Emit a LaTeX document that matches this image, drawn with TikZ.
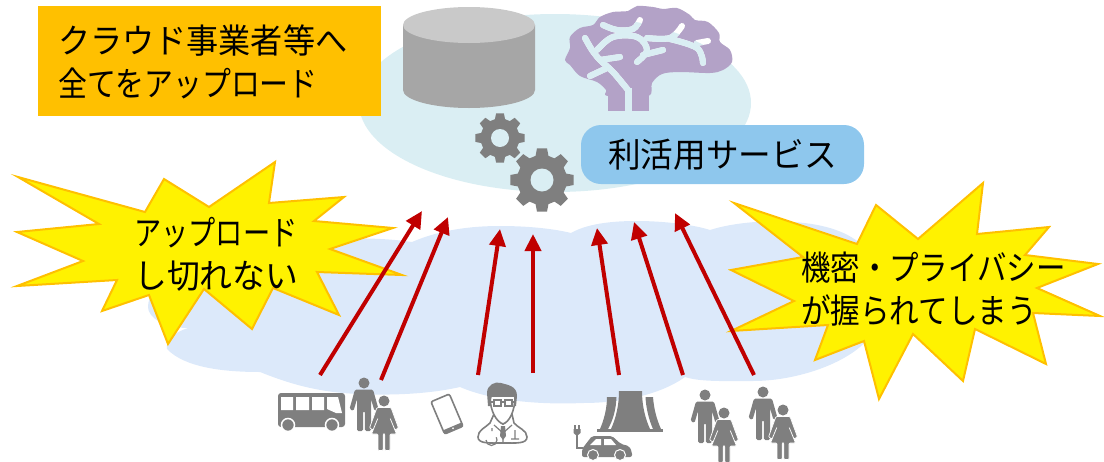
\documentclass[tikz,border=0pt]{standalone}
\usepackage{fontspec}
\usepackage{graphicx}
\setmainfont{Noto Sans CJK JP}
\usetikzlibrary{arrows.meta}
\definecolor{skyc}{HTML}{DAEEF3}
\definecolor{cloudc}{HTML}{DCE9FA}
\definecolor{orangec}{HTML}{FFC000}
\definecolor{bluec}{HTML}{8EC7ED}
\definecolor{redc}{HTML}{C00000}
\definecolor{iconc}{HTML}{7F7F7F}
\definecolor{brainc}{HTML}{B3A2C7}
\tikzset{
  starshape/.style={fill=yellow,draw=orangec,line width=2pt,miter limit=20},
  upflow/.style={draw=redc,line width=4pt,-{Triangle[length=17pt,width=16pt]}},
  jp/.style={font=\fontsize{34pt}{43pt}\selectfont,text=black,inner sep=0pt,align=left},
  veinline/.style={line width=6pt,line cap=round,line join=round},
  man/.pic={\fill[iconc] (0,0) circle (5.5);
    \fill[iconc,rounded corners=1.5pt] (-9,6.5)--(-14.5,26)--(-10.5,28)--(-7,16)--(-7,48)--(-.8,48)--(-.8,28)--(.8,28)--(.8,48)--(7,48)--(7,16)--(10.5,28)--(14.5,26)--(9,6.5)--cycle;},
  woman/.pic={\fill[iconc] (0,0) circle (5.5);
    \filldraw[iconc,draw=white,line width=.7pt,rounded corners=1pt] (-7,6.5)--(-14.5,27)--(-11,29)--(-6,17)--(-12.5,33)--(-6,33)--(-6,49.5)--(-.8,49.5)--(-.8,33)--(.8,33)--(.8,49.5)--(6,49.5)--(6,33)--(12.5,33)--(6,17)--(11,29)--(14.5,27)--(7,6.5)--cycle;}
}
\newcommand{\gearicon}[4]{% x y R hole
  \begin{scope}[shift={(#1,#2)}]
    \fill[iconc,line join=round] (90-9:#3) \foreach \a in {90,135,...,405} { -- (\a-9:#3) -- (\a+9:#3) -- (\a+15:{.78*#3}) -- (\a+30:{.78*#3}) } -- cycle;
    \fill[skyc] (0,0) circle (#4);
  \end{scope}}
\newcommand{\veinpaths}[1]{%
  \draw[#1,line width=7pt,line cap=butt] (628,111)--(628,88);
  \draw[#1] plot[smooth,tension=.6] coordinates {(628,90)(613,72)(600,60)(592,50)(585,38)};
  \draw[#1] plot[smooth,tension=.6] coordinates {(603,25)(617,30)(633,29)(640,20)};
  \draw[#1] plot[smooth,tension=.6] coordinates {(597,50)(613,37)(637,37)(647,50)(637,62)};
  \draw[#1] (643,55)--(663,50);
  \draw[#1] plot[smooth,tension=.6] coordinates {(647,38)(670,38)(682,26)};
  \draw[#1] plot[smooth,tension=.6] coordinates {(670,39)(697,48)(703,63)};
  \draw[#1] (697,43)--(708,41);
  \draw[#1] (600,60)--(620,57);
  \draw[#1] (590,76)--(607,68);
}
\begin{document}
\begin{tikzpicture}[x=1pt,y=-1pt]
\useasboundingbox (0,0) rectangle (1104,461);
% upper sky cloud
\fill[skyc] (555,103) ellipse [x radius=196,y radius=89];
% lower cloud
\fill[cloudc] (412,242) .. controls (440,230) and (470,226) .. (500,226)
  .. controls (530,226) and (555,229) .. (571,233)
  .. controls (590,222) and (620,221) .. (637,221)
  .. controls (665,221) and (695,225) .. (710,230)
  .. controls (735,222) and (770,220) .. (793,222)
  .. controls (825,224) and (850,232) .. (865,248)
  .. controls (885,270) and (890,320) .. (860,347)
  .. controls (835,368) and (790,381) .. (753,381)
  .. controls (725,381) and (700,382) .. (685,377)
  .. controls (660,395) and (620,403) .. (583,403)
  .. controls (535,405) and (490,400) .. (460,387)
  .. controls (425,395) and (380,396) .. (343,393)
  .. controls (310,390) and (285,382) .. (260,372)
  .. controls (225,372) and (185,368) .. (167,349)
  .. controls (165,340) and (175,332) .. (188,328)
  .. controls (165,328) and (148,318) .. (148,307)
  .. controls (148,285) and (180,265) .. (230,252)
  .. controls (290,238) and (365,235) .. (412,242) -- cycle;
% database
\fill[black!35] (403,25) -- (403,90) arc[start angle=180,end angle=360,x radius=66,y radius=-18] -- (535,25) -- cycle;
\fill[black!21] (469,25) ellipse [x radius=66,y radius=18];
% brain
\fill[brainc] plot[smooth cycle,tension=.55] coordinates {
 (608,96)(606,90)(597,82)(580,76)(570,65)(565,60)(570,48)(570,37)(580,28)(593,25)(600,17)(613,12)(628,11)(637,6)(653,7)(663,9)(677,8)(690,15)(695,20)(708,22)(719,33)(720,42)(730,50)(732,62)(723,70)(710,73)(680,72)(662,74)(652,83)(648,96)};
\fill[brainc] (608,92) rectangle (648.5,111);
\veinpaths{veinline,white}
\begin{scope}
  \clip (555,103) ellipse [x radius=196,y radius=89];
  \veinpaths{veinline,skyc}
\end{scope}
% gears
\gearicon{500}{138}{25}{9}
\gearicon{542}{180}{32}{11.5}
% boxes
\node[fill=orangec,minimum width=343pt,minimum height=110pt,inner sep=0pt] (titlebox) at (209.5,61) {};
\node[jp,anchor=west] (titletext) at (58,62) {\scalebox{.945}[1]{クラウド事業者等へ}\\\scalebox{.85}[1]{全てをアップロード}};
\node[fill=bluec,rounded corners=20pt,minimum width=283pt,minimum height=59pt,inner sep=0pt,jp,align=center] (servicebox) at (722.5,154.5) {\scalebox{.96}[1]{利活用サービス}};
% stars
\draw[starshape] (18,177)--(145,212)--(164,179)--(209,207)--(275,162)--(269,203)--(344,197)--(314,221)--(393,228)--(330,249)--(402,275)--(317,272)--(339,315)--(273,288)--(252,329)--(204,289)--(168,344)--(149,295)--(102,311)--(117,280)--(17,286)--(83,261)--(17,232)--(99,224)--cycle;
\draw[starshape] (734,203)--(857,244)--(876,205)--(918,239)--(983,183)--(977,234)--(1049,227)--(1025,255)--(1098,264)--(1037,288)--(1100,316)--(1033,313)--(1046,364)--(975,329)--(963,381)--(913,334)--(879,399)--(864,341)--(815,360)--(828,325)--(731,331)--(794,301)--(731,270)--(803,257)--cycle;
\node[jp,anchor=west] (leftstar) at (134,254) {\scalebox{.8}[1]{アップロード}\\\scalebox{.965}[1]{し切れない}};
\node[jp,anchor=west] (rightstar) at (801,289) {\scalebox{.866}[1]{機密・プライバシー}\\\scalebox{.87}[1]{が握られてしまう}};
% flow arrows
\coordinate (s1) at (320,375); \coordinate (e1) at (422,211);
\coordinate (s2) at (381,380); \coordinate (e2) at (448,217);
\coordinate (s3) at (478,375); \coordinate (e3) at (500,229);
\coordinate (s4) at (533,373); \coordinate (e4) at (533,234);
\coordinate (s5) at (619,375); \coordinate (e5) at (597,228);
\coordinate (s6) at (683,375); \coordinate (e6) at (634,222);
\coordinate (s7) at (754,375); \coordinate (e7) at (675,213);
\foreach \i in {1,...,7} \draw[upflow] (s\i) -- (e\i);
% bus
\fill[iconc,rounded corners=3pt] (278,393) rectangle (345,427);
\fill[white] (281,397) rectangle (293,410) (296,397) rectangle (309,410) (312,397) rectangle (324,410);
\fill[white] (327,397)--(338,397)--(342,413)--(336,413)--(327,409)--cycle;
\filldraw[iconc,draw=white,line width=1.5pt] (288,425) circle (6.5) (332,425) circle (6.5);
% people
\pic at (364,383) {man};
\pic at (384,401) {woman};
\pic at (705,395) {man};
\pic at (724,413) {woman};
\pic at (763,392) {man};
\pic at (783,410) {woman};
% tablet
\begin{scope}[shift={(447,414)},rotate=23]
  \draw[iconc,line width=1.6pt,fill=white,rounded corners=2pt] (-10,-17.5) rectangle (10,17.5);
  \fill[iconc] (-10,13.5) rectangle (10,17.5);
  \fill[white] (0,15.5) circle (1);
\end{scope}
% doctor
\draw[iconc,line width=1.6pt,fill=white,line join=round] (490,423) .. controls (485,428) and (478,430) .. (478,437) .. controls (478,444) and (490,443) .. (503,443) .. controls (516,443) and (527,444) .. (527,437) .. controls (527,430) and (518,428) .. (514,423) -- (512,414) -- (503,424) -- (494,414) -- cycle;
\draw[iconc,line width=1.6pt,fill=white] (490,396) .. controls (490,412) and (497,422) .. (503,424) .. controls (509,422) and (515,412) .. (515,396) -- cycle;
\fill[iconc] (488,406)--(487,393) .. controls (487,385) and (495,381) .. (501,383) .. controls (508,385) and (517,386) .. (517,396) -- (516,406) -- (514,406) -- (514,397) -- (492,395) -- (490,406) -- cycle;
\draw[iconc,line width=1.6pt] (489,402) -- (494,402) (494,400) rectangle (501,406) (501,402) -- (505,402) (505,400) rectangle (512,406) (512,402) -- (516,402);
\draw[iconc,line width=1.2pt] (503,433) -- (494,425) (503,433) -- (512,425) (503,433) -- (503,443);
\fill[iconc] (501,426)--(505,426)--(506,436)--(503,440)--(500,436)--cycle;
\draw[iconc,line width=1.2pt] (486,440) arc[start angle=180,end angle=-30,radius=5.5] (492,428) -- (492,431) (515,430) -- (515,439) (511,439) -- (519,439);
% power plant
\fill[iconc] (619,391) -- (642,391) .. controls (642,405) and (645,418) .. (650,429) -- (611,429) .. controls (616,418) and (619,405) .. (619,391) -- cycle;
\fill[iconc] (607,397) -- (616.5,397) .. controls (616,410) and (613,420) .. (608,429) -- (600,429) .. controls (604,420) and (607,408) .. (607,397) -- cycle;
\fill[iconc] (645.5,397) -- (653,397) .. controls (654,410) and (657,420) .. (661,429) -- (653,429) .. controls (649,420) and (646,408) .. (645.5,397) -- cycle;
\fill[iconc] (597,429) rectangle (663,431.5);
% car with plug
\fill[iconc,rounded corners=2pt] (582,453)--(582,449)--(592,436)--(612,436)--(621,444)--(629,446)--(632,452)--(632,457)--(582,457)--cycle;
\fill[white] (590,445)--(596,439)--(601,439)--(601,445)--cycle;
\fill[white] (604,439)--(611,439)--(616,445)--(604,445)--cycle;
\filldraw[iconc,draw=white,line width=1pt] (593,455) circle (5.5) (620,455) circle (5.5);
\draw[iconc,line width=1.6pt] (577,434) -- (577,448) -- (583,448);
\fill[iconc] (573.5,429) -- (580.5,429) -- (580.5,433) -- (577,436) -- (573.5,433) -- cycle;
\draw[iconc,line width=1.2pt] (575,429) -- (575,425) (579,429) -- (579,425);
\end{tikzpicture}
\end{document}
